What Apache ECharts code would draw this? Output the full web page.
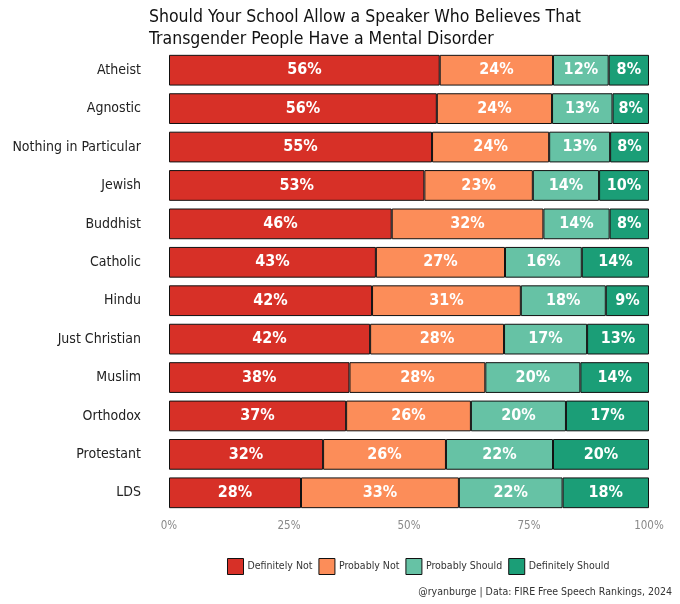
<!DOCTYPE html>
<html>
<head>
<meta charset="utf-8">
<script src="https://cdn.jsdelivr.net/npm/echarts@6/dist/echarts.min.js"></script>
<style>
  html, body { margin: 0; padding: 0; background: #fff; }
  #chart { width: 680px; height: 604px; }
</style>
</head>
<body>
<div id="chart"></div>
<script>
// categories, top to bottom
const groups = ['Atheist', 'Agnostic', 'Nothing in Particular', 'Jewish', 'Buddhist', 'Catholic',
  'Hindu', 'Just Christian', 'Muslim', 'Orthodox', 'Protestant', 'LDS'];

// shares in percent (labels show rounded values)
const definitelyNot = [56.4, 55.8, 54.8, 53.2, 46.4, 43.1, 42.3, 41.9, 37.6, 36.9, 32.1, 27.5];
const probablyNot = [23.6, 24.0, 24.4, 22.6, 31.6, 26.9, 31.0, 27.9, 28.3, 26.0, 25.6, 32.9];
const probablyShould = [11.6, 12.6, 12.7, 13.8, 13.8, 16.0, 17.7, 17.3, 19.8, 19.8, 22.3, 21.6];
const definitelyShould = [8.4, 7.6, 8.1, 10.4, 8.2, 14.0, 9.0, 12.9, 14.3, 17.3, 20.0, 18.0];

const seriesNames = ['Definitely Not', 'Probably Not', 'Probably Should', 'Definitely Should'];
const colors = ['#d73027', '#fc8d59', '#66c2a5', '#1b9e77'];
const xTicks = [0, 25, 50, 75, 100];

const FONT = "'DejaVu Sans Condensed', 'Roboto', sans-serif";

const makeSeries = (name, values, i) => ({
  name: name,
  type: 'bar',
  stack: 'total',
  barWidth: '80%',
  data: values,
  itemStyle: { color: colors[i], borderColor: '#111', borderWidth: 1 },
  label: {
    show: true,
    position: 'inside',
    color: '#fff',
    fontWeight: 'bold',
    fontSize: 16,
    fontFamily: FONT,
    formatter: p => Math.round(p.value) + '%'
  }
});

const chart = echarts.init(document.getElementById('chart'));
chart.setOption({
  animation: false,
  color: colors,
  title: {
    text: 'Should Your School Allow a Speaker Who Believes That\nTransgender People Have a Mental Disorder',
    left: 144,
    top: 1,
    textStyle: { fontFamily: FONT, fontWeight: 'normal', fontSize: 17.5, color: '#111', lineHeight: 22 }
  },
  grid: { left: 169, right: 31, top: 51, bottom: 92 },
  legend: {
    bottom: 24,
    left: 222,
    itemWidth: 16,
    itemHeight: 16,
    itemGap: 6,
    icon: 'rect',
    textStyle: { fontFamily: FONT, fontSize: 10.5, color: '#333', padding: [0, 0, 0, -1] },
    data: seriesNames.map((n, i) => ({ name: n, itemStyle: { color: colors[i], borderColor: '#111', borderWidth: 1 } }))
  },
  graphic: [{
    type: 'text',
    right: 8,
    bottom: 6,
    style: { text: '@ryanburge | Data: FIRE Free Speech Rankings, 2024', fontFamily: FONT, fontSize: 10.5, fill: '#333' }
  }],
  xAxis: {
    type: 'value',
    min: 0,
    max: 100,
    interval: 25,
    axisLine: { show: false },
    axisTick: { show: false },
    splitLine: { show: false },
    axisLabel: {
      color: '#888',
      fontFamily: FONT,
      fontSize: 11.5,
      formatter: v => xTicks.includes(v) ? v + '%' : ''
    }
  },
  yAxis: {
    type: 'category',
    data: groups,
    inverse: true,
    axisLine: { show: false },
    axisTick: { show: false },
    axisLabel: { color: '#222', fontFamily: FONT, fontSize: 14, margin: 28 }
  },
  series: [
    makeSeries(seriesNames[0], definitelyNot, 0),
    makeSeries(seriesNames[1], probablyNot, 1),
    makeSeries(seriesNames[2], probablyShould, 2),
    makeSeries(seriesNames[3], definitelyShould, 3)
  ]
});
</script>
</body>
</html>
